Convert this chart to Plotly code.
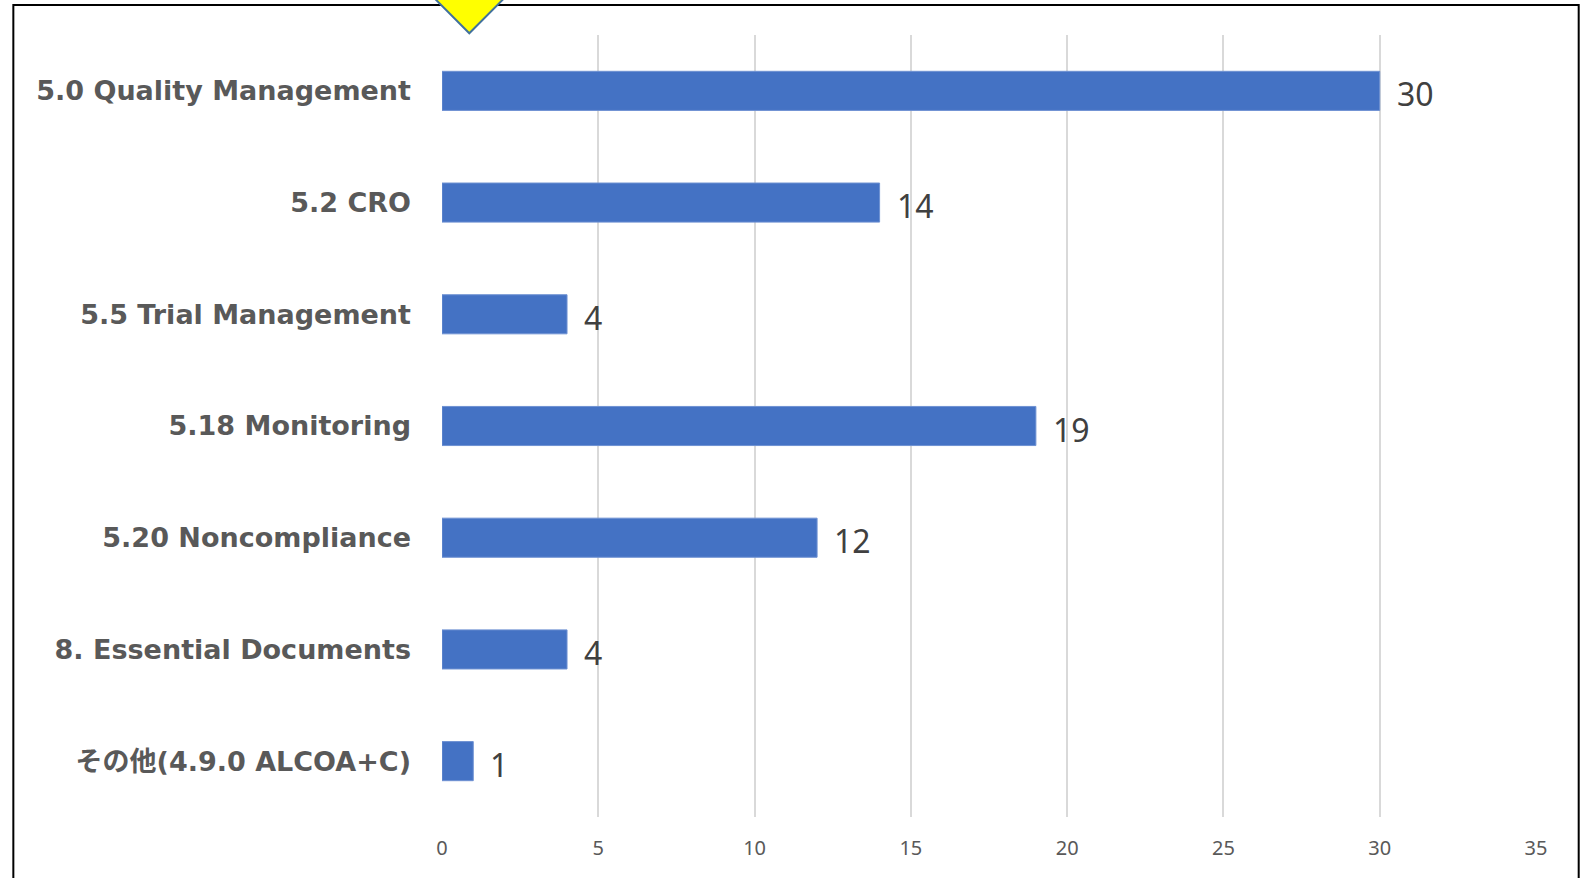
import plotly.graph_objects as go

categories = [
    "5.0 Quality Management",
    "5.2 CRO",
    "5.5 Trial Management",
    "5.18 Monitoring",
    "5.20 Noncompliance",
    "8. Essential Documents",
    "その他(4.9.0 ALCOA+C)",
]
values = [30, 14, 4, 19, 12, 4, 1]
x_ticks = [0, 5, 10, 15, 20, 25, 30, 35]

W, H = 1581, 878
L, R, T, B = 441.7, W - 1535.8, 35, H - 817
pw, ph = W - L - R, H - T - B


def px(x):
    return (x - L) / pw


def py(y):
    return (H - B - y) / ph


fig = go.Figure()
fig.add_trace(go.Bar(
    y=categories, x=values, orientation="h", width=0.35,
    marker=dict(color="#4472C4", line=dict(color="#6E91D2", width=1)),
    hoverinfo="x+y",
))

for c, v in zip(categories, values):
    fig.add_annotation(
        x=v, y=c, text=str(v), showarrow=False, xanchor="left", yanchor="middle",
        xshift=15, yshift=-3,
        font=dict(family="Noto Sans, Open Sans, sans-serif", size=32, color="#404040"),
    )

# border frame
fig.add_shape(type="rect", xref="paper", yref="paper",
              x0=px(13), x1=px(1578.5), y0=py(900), y1=py(5),
              line=dict(color="black", width=2), fillcolor="rgba(0,0,0,0)", layer="above")
# yellow marker triangle
fig.add_shape(type="path", xref="paper", yref="paper",
              path=f"M {px(416)} {py(-20)} L {px(522)} {py(-20)} L {px(469)} {py(33.3)} Z",
              fillcolor="#FFFF00", line=dict(color="#41719C", width=2), layer="above")

fig.update_layout(
    width=W, height=H,
    margin=dict(l=L, r=R, t=T, b=B, pad=0),
    paper_bgcolor="white", plot_bgcolor="white",
    showlegend=False,
    xaxis=dict(
        range=[0, 35], tickvals=x_ticks, showgrid=True, gridcolor="#D9D9D9", gridwidth=2,
        zeroline=False, showline=False, ticks="", ticklabelstandoff=17,
        tickfont=dict(family="Noto Sans, Open Sans, sans-serif", size=20, color="#595959"),
    ),
    yaxis=dict(
        categoryorder="array", categoryarray=categories, autorange="reversed",
        showgrid=False, zeroline=False, showline=False, ticks="", ticklabelstandoff=30,
        tickfont=dict(family="DejaVu Sans, Noto Sans CJK JP, sans-serif", size=27,
                      color="#595959", weight="bold"),
    ),
)

fig.write_html("out.html", config={"displayModeBar": False},
               post_script="document.body.style.margin='0';")
